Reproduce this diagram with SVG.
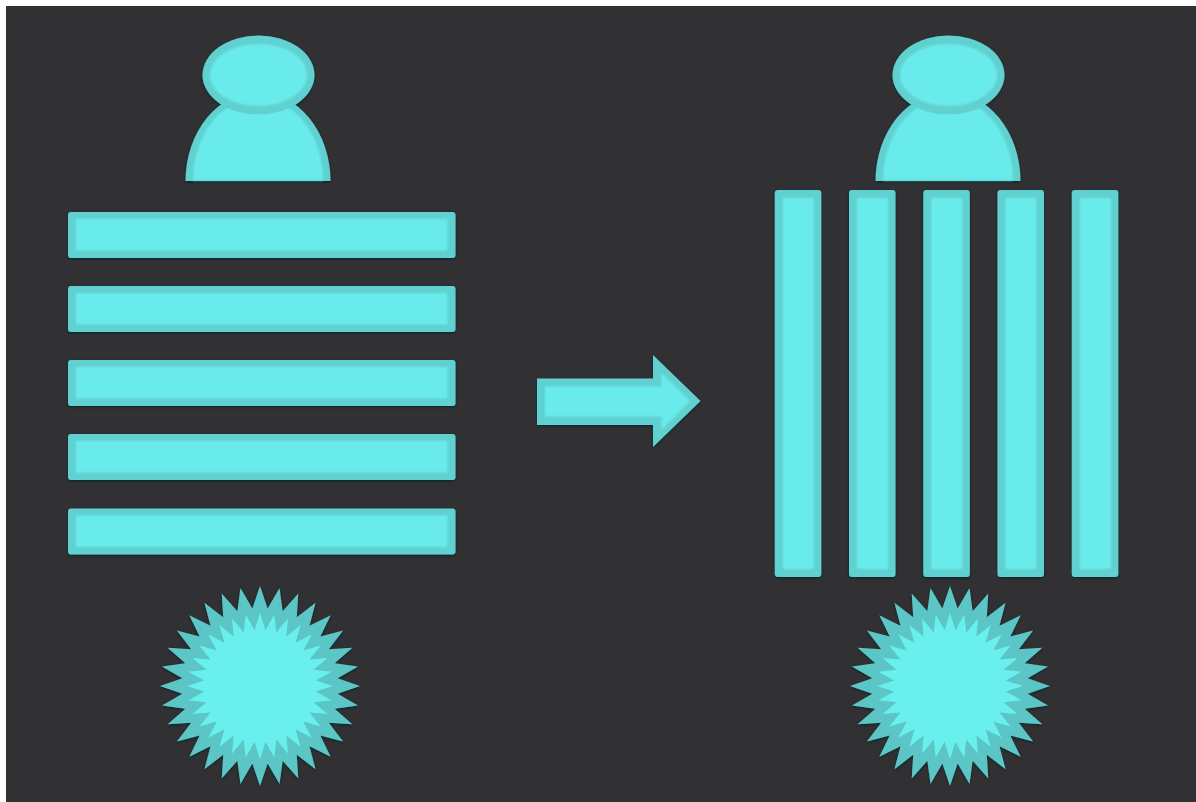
<svg xmlns="http://www.w3.org/2000/svg" width="1196" height="802" viewBox="0 0 1196 802">
<style>
.o{fill:#60d0d0}
.i{fill:#6bebeb;filter:url(#inner)}
.so{fill:#5cc6c6}
.si{fill:#6befef}
.s{filter:url(#soft)}
</style>
<defs>
<filter id="inner" x="-10%" y="-10%" width="120%" height="120%">
<feGaussianBlur stdDeviation="1.2"/>
</filter>
<filter id="soft" x="-5%" y="-5%" width="110%" height="110%">
<feGaussianBlur in="SourceAlpha" stdDeviation="1" result="a"/>
<feOffset in="a" dy="1" result="off"/>
<feFlood flood-color="#04262c" flood-opacity="1"/>
<feComposite in2="off" operator="in" result="sh"/>
<feGaussianBlur in="SourceGraphic" stdDeviation="0.6" result="b"/>
<feMerge>
<feMergeNode in="sh"/>
<feMergeNode in="b"/>
</feMerge>
</filter>
<g id="person">
<path class="o" d="M185.5 181A72.500 89 0 0 1 330.500 181Z"/>
<path class="i" d="M193 180A65 82 0 0 1 323 180Z"/>
<ellipse class="o" cx="258.500" cy="75" rx="56" ry="39.500"/>
<ellipse class="i" cx="258.500" cy="75" rx="48.500" ry="31"/>
</g>
<g id="star">
<polygon class="so" points="100,0 77.62,7.65 98.08,19.51 74.64,22.64 92.39,38.27 68.79,36.77 83.15,55.56 60.29,49.48 70.71,70.71 49.48,60.29 55.56,83.15 36.77,68.79 38.27,92.39 22.64,74.64 19.51,98.08 7.65,77.62 0,100 -7.65,77.62 -19.51,98.08 -22.64,74.64 -38.27,92.39 -36.77,68.79 -55.56,83.15 -49.48,60.29 -70.71,70.71 -60.29,49.48 -83.15,55.56 -68.79,36.77 -92.39,38.27 -74.64,22.64 -98.08,19.51 -77.62,7.65 -100,0 -77.62,-7.65 -98.08,-19.51 -74.64,-22.64 -92.39,-38.27 -68.79,-36.77 -83.15,-55.56 -60.29,-49.48 -70.71,-70.71 -49.48,-60.29 -55.56,-83.15 -36.77,-68.79 -38.27,-92.39 -22.64,-74.64 -19.51,-98.08 -7.65,-77.62 0,-100 7.65,-77.62 19.51,-98.08 22.64,-74.64 38.27,-92.39 36.77,-68.79 55.56,-83.15 49.48,-60.29 70.71,-70.71 60.29,-49.48 83.15,-55.56 68.79,-36.77 92.39,-38.27 74.64,-22.64 98.08,-19.51 77.62,-7.65"/>
<polygon class="si" points="73,0 55.73,5.49 71.6,14.24 53.59,16.26 67.44,27.94 49.39,26.4 60.7,40.56 43.29,35.53 51.62,51.62 35.53,43.29 40.56,60.7 26.4,49.39 27.94,67.44 16.26,53.59 14.24,71.6 5.49,55.73 0,73 -5.49,55.73 -14.24,71.6 -16.26,53.59 -27.94,67.44 -26.4,49.39 -40.56,60.7 -35.53,43.29 -51.62,51.62 -43.29,35.53 -60.7,40.56 -49.39,26.4 -67.44,27.94 -53.59,16.26 -71.6,14.24 -55.73,5.49 -73,0 -55.73,-5.49 -71.6,-14.24 -53.59,-16.26 -67.44,-27.94 -49.39,-26.4 -60.7,-40.56 -43.29,-35.53 -51.62,-51.62 -35.53,-43.29 -40.56,-60.7 -26.4,-49.39 -27.94,-67.44 -16.26,-53.59 -14.24,-71.6 -5.49,-55.73 0,-73 5.49,-55.73 14.24,-71.6 16.26,-53.59 27.94,-67.44 26.4,-49.39 40.56,-60.7 35.53,-43.29 51.62,-51.62 43.29,-35.53 60.7,-40.56 49.39,-26.4 67.44,-27.94 53.59,-16.26 71.6,-14.24 55.73,-5.49"/>
</g>
<g id="hbar">
<rect class="o" x="68" y="0" width="387.500" height="46" rx="3"/>
<rect class="i" x="76" y="7" width="371.500" height="31.500"/>
</g>
<g id="vbar">
<rect class="o" x="0" y="190" width="46.500" height="387" rx="3"/>
<rect class="i" x="8" y="198" width="31" height="371"/>
</g>
</defs>
<rect id="background" x="6" y="6" width="1190" height="796" fill="#313133"/>
<g id="left" class="s">
<use id="person-left" href="#person"/>
<use id="bar-h1" href="#hbar" y="212"/>
<use id="bar-h2" href="#hbar" y="286"/>
<use id="bar-h3" href="#hbar" y="360"/>
<use id="bar-h4" href="#hbar" y="434"/>
<use id="bar-h5" href="#hbar" y="508.500"/>
<use id="star-left" href="#star" x="260" y="686"/>
</g>
<g id="right" class="s">
<use id="person-right" href="#person" x="690"/>
<use id="bar-v1" href="#vbar" x="774.800"/>
<use id="bar-v2" href="#vbar" x="849"/>
<use id="bar-v3" href="#vbar" x="923.300"/>
<use id="bar-v4" href="#vbar" x="997.500"/>
<use id="bar-v5" href="#vbar" x="1071.800"/>
<use id="star-right" href="#star" x="950" y="686"/>
</g>
<g id="connectors" class="s">
<polygon class="o" points="537,378.500 653,378.500 653,355 700.500,401 653,447 653,425 537,425"/>
<polygon class="i" points="545,386.500 661.500,386.500 661.500,373 690,401 661.500,430 661.500,416.500 545,416.500"/>
</g>
</svg>
